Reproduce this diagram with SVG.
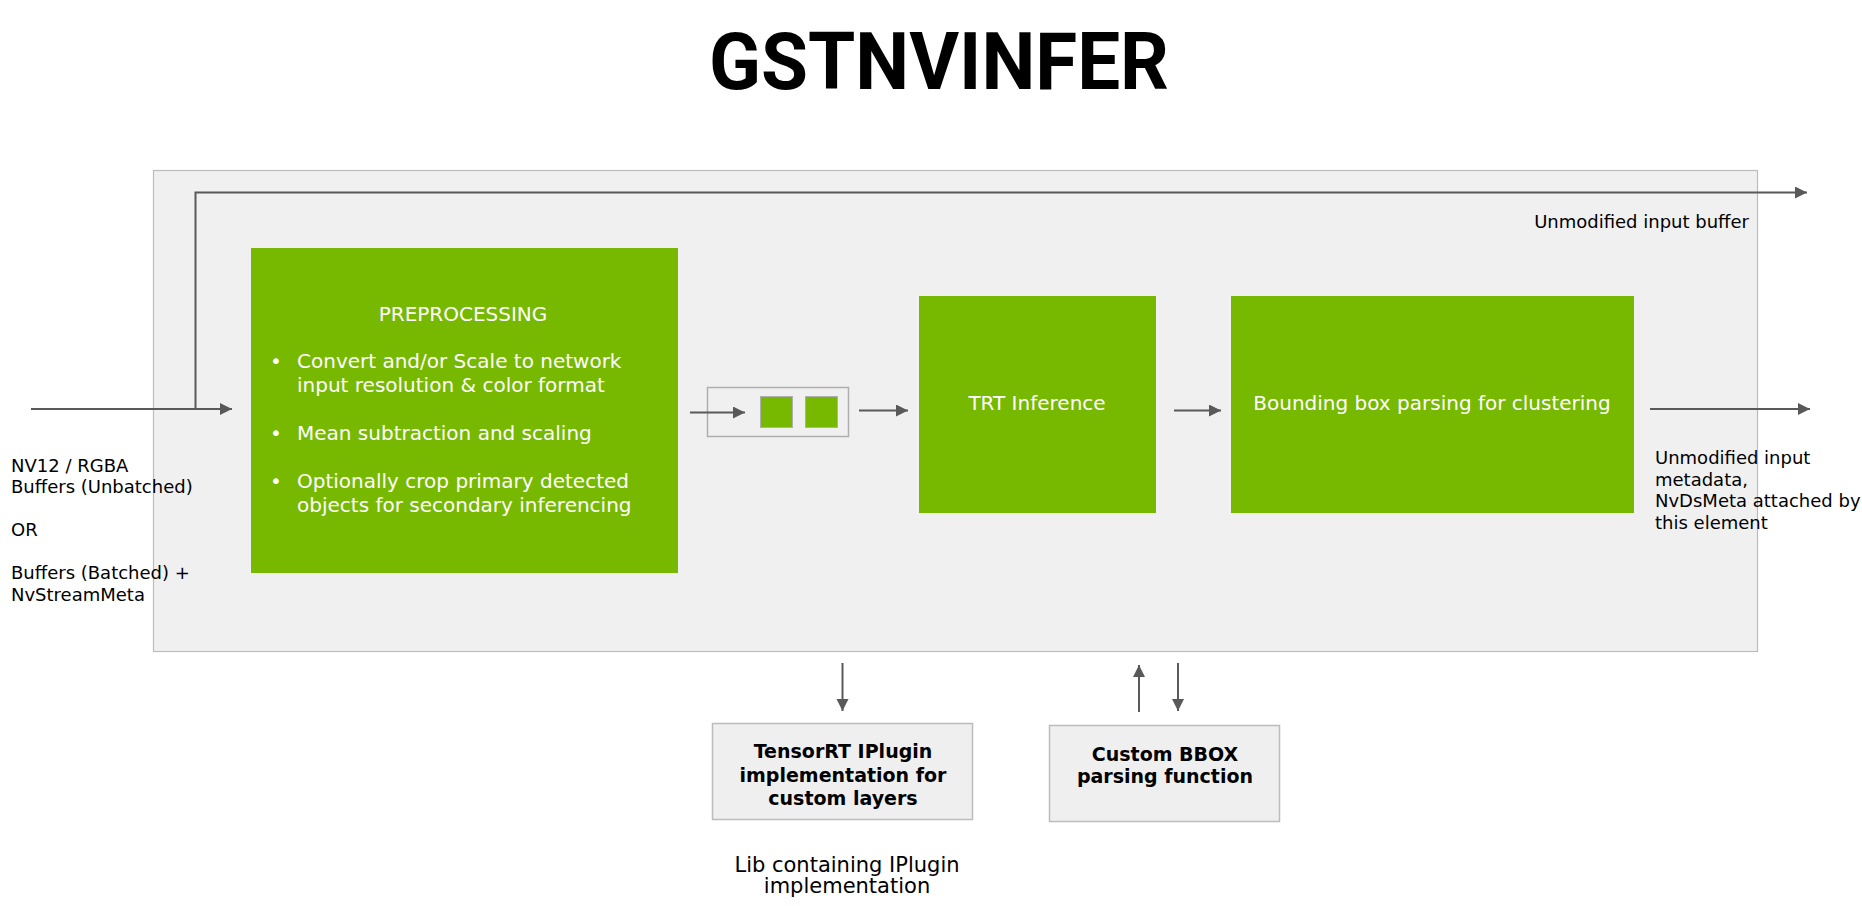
<svg xmlns="http://www.w3.org/2000/svg" width="1862" height="906" viewBox="0 0 1862 906">
<style>
.t{font-family:"DejaVu Sans","Liberation Sans",sans-serif;fill:#000}
.w{font-family:"DejaVu Sans","Liberation Sans",sans-serif;fill:#fff;font-size:20px}
.b{font-family:"DejaVu Sans","Liberation Sans",sans-serif;font-weight:bold;font-size:19px;fill:#000}
.g{fill:#76b900}
.c{stroke:#595959;stroke-width:2;fill:none}
.lb{fill:#efefef;stroke:#bcbcbc;stroke-width:1.5}
</style>
<defs>
<marker id="ah" markerUnits="userSpaceOnUse" markerWidth="14" markerHeight="14" refX="12" refY="6" orient="auto">
<path d="M0,0 L12,6 L0,12 Z" fill="#595959"/>
</marker>
</defs>
<rect width="1862" height="906" fill="#fff"/>
<text x="939" y="89" text-anchor="middle" font-family="Roboto,'Liberation Sans',sans-serif" font-weight="bold" font-size="80" textLength="460" lengthAdjust="spacingAndGlyphs">GSTNVINFER</text>

<g id="container">
<rect x="153.5" y="170.5" width="1604" height="481" fill="#f0f0f0" stroke="#bcbcbc" stroke-width="1.2"/>
</g>

<g id="preprocessing">
<rect class="g" x="251" y="248" width="427" height="325"/>
<text class="w" x="463" y="321" text-anchor="middle" font-size="19">PREPROCESSING</text>
<text class="w" x="270" y="368">•</text>
<text class="w" x="297" y="368">Convert and/or Scale to network</text>
<text class="w" x="297" y="392">input resolution &amp; color format</text>
<text class="w" x="270" y="440">•</text>
<text class="w" x="297" y="440">Mean subtraction and scaling</text>
<text class="w" x="270" y="488">•</text>
<text class="w" x="297" y="488">Optionally crop primary detected</text>
<text class="w" x="297" y="512">objects for secondary inferencing</text>
</g>

<g id="queue">
<rect x="707.5" y="387.5" width="141" height="49" fill="none" stroke="#aeaeae" stroke-width="1.5"/>
<rect class="g" x="760.5" y="396.5" width="32" height="31" stroke="#aeaeae" stroke-width="1"/>
<rect class="g" x="805.5" y="396.5" width="32" height="31" stroke="#aeaeae" stroke-width="1"/>
</g>

<g id="trt">
<rect class="g" x="919" y="296" width="237" height="217"/>
<text class="w" x="1037" y="410" text-anchor="middle">TRT Inference</text>
</g>

<g id="bbox">
<rect class="g" x="1231" y="296" width="403" height="217"/>
<text class="w" x="1432" y="410" text-anchor="middle">Bounding box parsing for clustering</text>
</g>

<g id="tensorrt-plugin">
<rect class="lb" x="712.5" y="723.5" width="260" height="96"/>
<text class="b" x="843" y="758" text-anchor="middle">TensorRT IPlugin</text>
<text class="b" x="843" y="782" text-anchor="middle">implementation for</text>
<text class="b" x="843" y="805" text-anchor="middle">custom layers</text>
</g>

<g id="custom-bbox">
<rect class="lb" x="1049.5" y="725.5" width="230" height="96"/>
<text class="b" x="1165" y="761" text-anchor="middle">Custom BBOX</text>
<text class="b" x="1165" y="783" text-anchor="middle">parsing function</text>
</g>

<g id="labels">
<text class="t" font-size="18" x="11" y="472">NV12 / RGBA</text>
<text class="t" font-size="18" x="11" y="493">Buffers (Unbatched)</text>
<text class="t" font-size="18" x="11" y="536">OR</text>
<text class="t" font-size="18" x="11" y="579">Buffers (Batched) +</text>
<text class="t" font-size="18" x="11" y="601">NvStreamMeta</text>
<text class="t" font-size="18" x="1749" y="228" text-anchor="end">Unmodified input buffer</text>
<text class="t" font-size="18" x="1655" y="464">Unmodified input</text>
<text class="t" font-size="18" x="1655" y="486">metadata,</text>
<text class="t" font-size="18" x="1655" y="507">NvDsMeta attached by</text>
<text class="t" font-size="18" x="1655" y="529">this element</text>
<text class="t" font-size="21" x="847" y="872" text-anchor="middle">Lib containing IPlugin</text>
<text class="t" font-size="21" x="847" y="893" text-anchor="middle">implementation</text>
</g>

<g id="connectors">
<line class="c" x1="31" y1="409" x2="232" y2="409" marker-end="url(#ah)"/>
<polyline class="c" points="195.5,409 195.5,192.5 1807,192.5" marker-end="url(#ah)"/>
<line class="c" x1="690" y1="412.5" x2="745" y2="412.5" marker-end="url(#ah)"/>
<line class="c" x1="859" y1="410.5" x2="908" y2="410.5" marker-end="url(#ah)"/>
<line class="c" x1="1174" y1="410.5" x2="1221" y2="410.5" marker-end="url(#ah)"/>
<line class="c" x1="1650" y1="409" x2="1810" y2="409" marker-end="url(#ah)"/>
<line class="c" x1="842.5" y1="663" x2="842.5" y2="711" marker-end="url(#ah)"/>
<line class="c" x1="1139" y1="712" x2="1139" y2="665" marker-end="url(#ah)"/>
<line class="c" x1="1178" y1="663" x2="1178" y2="711" marker-end="url(#ah)"/>
</g>
</svg>
